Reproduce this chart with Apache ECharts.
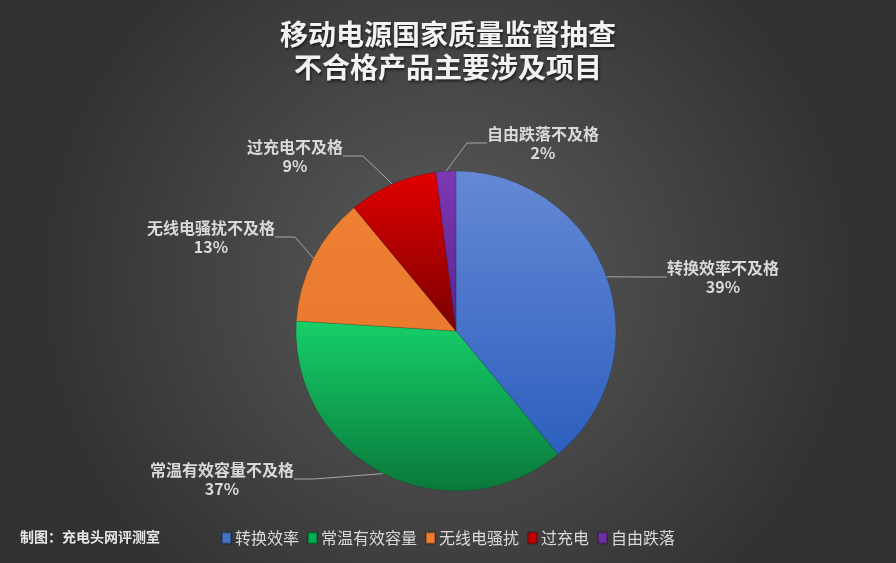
<!DOCTYPE html>
<html>
<head>
<meta charset="utf-8">
<script src="https://cdn.jsdelivr.net/npm/echarts@6/dist/echarts.min.js"></script>
<style>
  html, body { margin: 0; padding: 0; background: #3a3a3a; }
  #chart { width: 896px; height: 563px; }
</style>
</head>
<body>
<div id="chart"></div>
<script>
'use strict';

var categories = ['转换效率', '常温有效容量', '无线电骚扰', '过充电', '自由跌落'];
var values = [39, 37, 13, 9, 2];
var titleLines = ['移动电源国家质量监督抽查', '不合格产品主要涉及项目'];
var credit = '制图：充电头网评测室';

// slice gradients (top, bottom) and flat legend colours
var sliceColors = [
    ['#6589d5', '#2d5fbe'],
    ['#16cf69', '#0a783a'],
    ['#ee7f33', '#ea7a2e'],
    ['#e20000', '#7a0000'],
    ['#7d38b2', '#5b2190']
];
var legendColors = ['#4472c4', '#00b050', '#ed7d31', '#c00000', '#7030a0'];

// where each label sits (centre of text block)
var labelPos = [[723, 277], [222, 479], [211, 237], [295, 156], [543, 143]];

var myChart = echarts.init(document.getElementById('chart'));

var pieData = categories.map(function(name, i){
    return {
        name: name,
        value: values[i],
        itemStyle: {
            color: new echarts.graphic.LinearGradient(0, 0, 0, 1, [
                {offset: 0, color: sliceColors[i][0]},
                {offset: 1, color: sliceColors[i][1]}
            ])
        }
    };
});

var option = {
    backgroundColor: new echarts.graphic.RadialGradient(0.5, 0.5, 0.72, [
        {offset: 0, color: '#5b5b5b'},
        {offset: 1, color: '#323232'}
    ]),
    title: {
        text: titleLines.join('\n'),
        left: 'center',
        top: 13,
        textStyle: {
            color: '#f2f2f2',
            fontSize: 28,
            fontWeight: 'bold',
            lineHeight: 33,
            fontFamily: 'Noto Sans CJK SC',
            textShadowColor: 'rgba(0,0,0,0.6)',
            textShadowBlur: 3,
            textShadowOffsetX: 1,
            textShadowOffsetY: 2
        }
    },
    graphic: [{
        type: 'text',
        left: 20,
        top: 530,
        style: {
            text: credit,
            fill: '#e6e6e6',
            font: 'bold 14px "Noto Sans CJK SC"'
        }
    }],
    legend: {
        bottom: 12,
        left: 216,
        itemWidth: 9,
        itemHeight: 11,
        itemGap: 8,
        icon: 'rect',
        data: categories.map(function(name, i){
            return {name: name, itemStyle: {color: legendColors[i]}};
        }),
        textStyle: {
            color: '#d9d9d9',
            fontSize: 16,
            fontFamily: 'Noto Sans CJK SC',
            padding: [0, 0, 0, -1]
        }
    },
    series: [{
        type: 'pie',
        center: [456, 331],
        radius: 160,
        startAngle: 90,
        clockwise: true,
        animation: false,
        data: pieData,
        itemStyle: {
            borderColor: 'rgba(0,0,0,0.25)',
            borderWidth: 0.6
        },
        label: {
            show: true,
            position: 'outside',
            formatter: '{b}不及格\n{d}%',
            color: '#d9d9d9',
            fontSize: 16,
            fontWeight: 'bold',
            lineHeight: 19,
            fontFamily: 'Noto Sans CJK SC',
            align: 'center'
        },
        labelLine: {
            show: true,
            length: 12,
            length2: 20,
            lineStyle: {color: '#a6a6a6', width: 1}
        },
        labelLayout: function(params){
            var p = labelPos[params.dataIndex];
            return {
                x: p[0],
                y: p[1],
                align: 'center',
                verticalAlign: 'middle'
            };
        }
    }]
};

myChart.setOption(option);
</script>
</body>
</html>
